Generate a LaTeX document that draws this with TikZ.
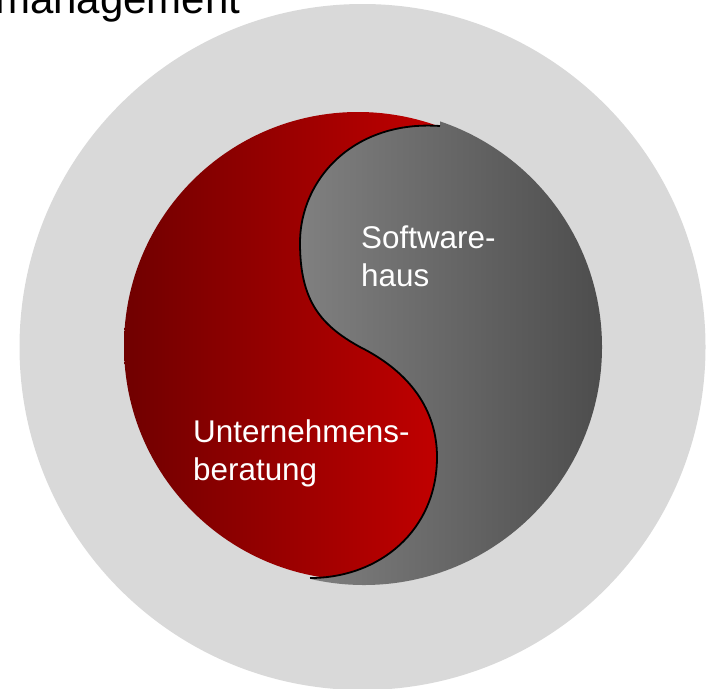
\documentclass[tikz,border=0pt]{standalone}
\usepackage{fontspec}
\setmainfont{Liberation Sans}
\definecolor{outerfill}{RGB}{217,217,217}
\definecolor{redL}{RGB}{112,0,0}
\definecolor{redR}{RGB}{232,0,0}
\definecolor{grayL}{RGB}{157,157,157}
\definecolor{grayR}{RGB}{77,77,77}
\begin{document}
\begin{tikzpicture}[x=1pt,y=-1pt,
  lbl/.style={text=white, align=left, inner sep=0pt, font=\fontsize{31.4}{37.5}\selectfont},
  scurve/.style={insert path={.. controls (355,120) and (300,178) .. (300,243)
      .. controls (300,300) and (320,325) .. (M)
      .. controls (410,372) and (437,410) .. (437,457)
      .. controls (437,530) and (380,578) .. (B)}},
  outline/.style={draw=black, line width=1.8pt}]
\clip (0,0) rectangle (708,688);
\fill[outerfill] (362.5,347) circle[radius=343pt];
\coordinate (T) at (440,126);
\coordinate (M) at (360,347);
\coordinate (B) at (310,578);
% gray half
\begin{scope}
  \clip (T) [scurve] -- (310,720) -- (720,720) -- (720,-20) -- (440,-20) -- cycle;
  \shade[left color=grayL, right color=grayR] (364,347) circle[radius=238pt];
\end{scope}
% red half
\begin{scope}
  \clip (T) [scurve] -- (310,720) -- (-20,720) -- (-20,-20) -- (440,-20) -- cycle;
  \shade[left color=redL, right color=redR] (358,346) circle[radius=234pt];
\end{scope}
\path[outline] (T) [scurve];
\node[lbl, anchor=base west] (ub) at (193,480) {Unternehmens-\\beratung};
\node[lbl, anchor=base west] (sh) at (361,286) {Software-\\haus};
\node[anchor=base west, inner sep=0pt, font=\fontsize{42}{50}\selectfont] (mg) at (-5,13) {management};
\end{tikzpicture}
\end{document}
